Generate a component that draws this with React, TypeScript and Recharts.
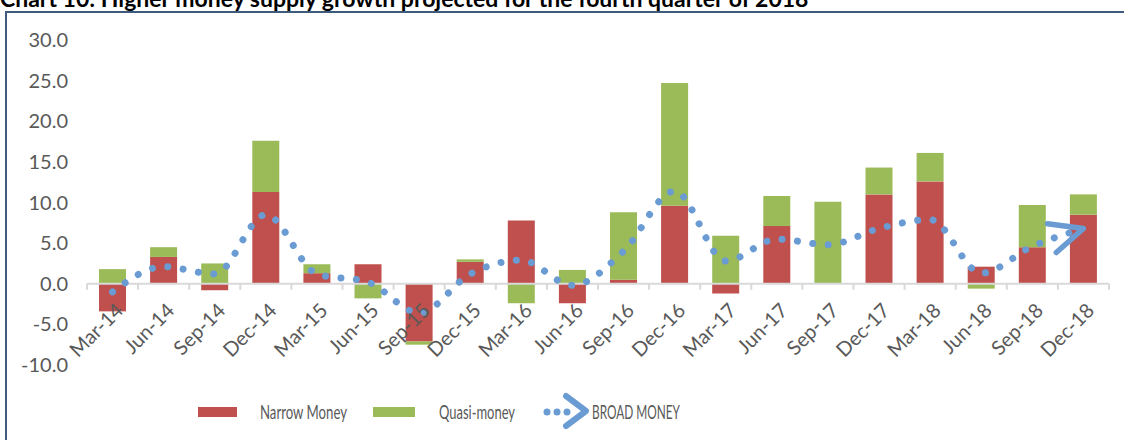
import React from "react";
import { ComposedChart, Bar, Line, XAxis, YAxis, ReferenceLine } from "recharts";

// quarterly money supply growth, contributions in % points
const quarters = [
  "Mar-14", "Jun-14", "Sep-14", "Dec-14",
  "Mar-15", "Jun-15", "Sep-15", "Dec-15",
  "Mar-16", "Jun-16", "Sep-16", "Dec-16",
  "Mar-17", "Jun-17", "Sep-17", "Dec-17",
  "Mar-18", "Jun-18", "Sep-18", "Dec-18",
];
const narrowMoney = [-3.4, 3.3, -0.8, 11.3, 1.3, 2.4, -7.1, 2.7, 7.8, -2.4, 0.5, 9.6, -1.2, 7.1, 0.0, 11.0, 12.6, 2.1, 4.5, 8.5];
const quasiMoney = [1.8, 1.2, 2.5, 6.3, 1.1, -1.8, -0.4, 0.3, -2.4, 1.7, 8.3, 15.1, 5.9, 3.7, 10.1, 3.3, 3.5, -0.6, 5.2, 2.5];
const broadMoney = [-1.0, 2.1, 1.2, 8.5, 1.2, 0.2, -3.6, 1.2, 2.9, -0.2, 4.0, 11.4, 2.8, 5.5, 4.8, 6.8, 7.9, 1.3, 4.6, 6.8];
const yTicks = [-10, -5, 0, 5, 10, 15, 20, 25, 30];

const RED = "#C0504D";
const GREEN = "#9BBB59";
const BLUE = "#6A9BD3";
const GREY_TEXT = "#595959";
const AXIS = "#D9D9D9";
const FONT = "Lato, 'Open Sans', sans-serif";

const W = 1124;
const H = 440;
const TOP = 40;
const PLOT_BOTTOM = 365;
const LEFT = 87;
const RIGHT = 1109;
const BAND = (RIGHT - LEFT) / quarters.length;
const yMin = yTicks[0];
const yMax = yTicks[yTicks.length - 1];
const ZERO_Y = TOP + ((PLOT_BOTTOM - TOP) * yMax) / (yMax - yMin);

const data = quarters.map((q, i) => ({
  q,
  narrow: narrowMoney[i],
  quasi: quasiMoney[i],
  broad: broadMoney[i],
}));

const QuarterTick = (props: any) => {
  const { x, index, payload } = props;
  const half = BAND / 2;
  const lx = x + 12;
  const ly = ZERO_Y + 28;
  return (
    <g>
      <line x1={x - half} x2={x - half} y1={ZERO_Y} y2={ZERO_Y + 6} stroke={AXIS} strokeWidth={2} />
      {index === quarters.length - 1 && (
        <line x1={x + half} x2={x + half} y1={ZERO_Y} y2={ZERO_Y + 6} stroke={AXIS} strokeWidth={2} />
      )}
      <text
        x={lx}
        y={ly}
        transform={`rotate(-45 ${lx} ${ly})`}
        textAnchor="end"
        fill={GREY_TEXT}
        fontSize={20}
        fontFamily={FONT}
      >
        {payload.value}
      </text>
    </g>
  );
};

const Legend = () => (
  <svg width={W} height={50} style={{ position: "absolute", left: 0, top: 390 }}>
    <rect x={198} y={17} width={39} height={10} fill={RED} />
    <text x={260} y={29} fontSize={20} fontFamily={FONT} fill={GREY_TEXT} textLength={87} lengthAdjust="spacingAndGlyphs">
      Narrow Money
    </text>
    <rect x={373} y={17} width={42} height={10} fill={GREEN} />
    <text x={439} y={29} fontSize={20} fontFamily={FONT} fill={GREY_TEXT} textLength={76} lengthAdjust="spacingAndGlyphs">
      Quasi-money
    </text>
    <circle cx={547} cy={22} r={3.5} fill={BLUE} />
    <circle cx={557} cy={22} r={3.5} fill={BLUE} />
    <circle cx={567} cy={22} r={3.5} fill={BLUE} />
    <polyline points="566,6 586,21 566,36" fill="none" stroke={BLUE} strokeWidth={6} strokeLinecap="round" strokeLinejoin="round" />
    <text x={592} y={29} fontSize={20} fontFamily={FONT} fill={GREY_TEXT} textLength={88} lengthAdjust="spacingAndGlyphs">
      BROAD MONEY
    </text>
  </svg>
);

export default function App() {
  return (
    <div style={{ position: "absolute", left: 0, top: 0, width: W, height: H, overflow: "hidden", background: "#fff" }}>
      <div
        style={{
          position: "absolute",
          left: 0,
          top: -16,
          lineHeight: "28px",
          fontFamily: FONT,
          fontWeight: 700,
          fontSize: 23,
          whiteSpace: "nowrap",
          color: "#000",
        }}
      >
        Chart 10: Higher money supply growth projected for the fourth quarter of 2018
      </div>
      <div
        style={{
          position: "absolute",
          left: 5,
          top: 11,
          width: 1200,
          height: 500,
          borderLeft: "2px solid #3E5A7C",
          borderTop: "2px solid #3E5A7C",
        }}
      />
      <div style={{ position: "absolute", left: 0, top: 0 }}>
        <ComposedChart
          width={W}
          height={H}
          data={data}
          stackOffset="sign"
          margin={{ top: TOP, right: W - RIGHT, bottom: H - PLOT_BOTTOM - 30, left: 0 }}
        >
          <defs>
            <marker
              id="broadArrow"
              markerUnits="userSpaceOnUse"
              viewBox="-40 -20 44 40"
              markerWidth={44}
              markerHeight={40}
              refX={0}
              refY={0}
              orient="auto"
            >
              <path
                d="M -33 -15 L 0 0 L -33 15"
                fill="none"
                stroke={BLUE}
                strokeWidth={5.5}
                strokeLinecap="round"
                strokeLinejoin="round"
                strokeDasharray="none"
              />
            </marker>
          </defs>
          <XAxis dataKey="q" interval={0} axisLine={false} tickLine={false} height={30} tick={<QuarterTick />} />
          <YAxis
            width={LEFT}
            domain={[yMin, yMax]}
            ticks={yTicks}
            axisLine={false}
            tickLine={false}
            tickMargin={13}
            tickFormatter={(v: number) => v.toFixed(1)}
            tick={{ fill: GREY_TEXT, fontSize: 20, fontFamily: FONT }}
          />
          <ReferenceLine y={0} stroke={AXIS} strokeWidth={2} />
          <Bar dataKey="narrow" name="Narrow Money" stackId="m" fill={RED} barSize={27} isAnimationActive={false} />
          <Bar dataKey="quasi" name="Quasi-money" stackId="m" fill={GREEN} barSize={27} isAnimationActive={false} />
          <Line
            type="monotone"
            dataKey="broad"
            name="BROAD MONEY"
            stroke={BLUE}
            strokeWidth={7}
            strokeDasharray="0.01 15.5"
            strokeLinecap="round"
            dot={false}
            activeDot={false}
            markerEnd="url(#broadArrow)"
            isAnimationActive={false}
          />
        </ComposedChart>
      </div>
      <Legend />
    </div>
  );
}
